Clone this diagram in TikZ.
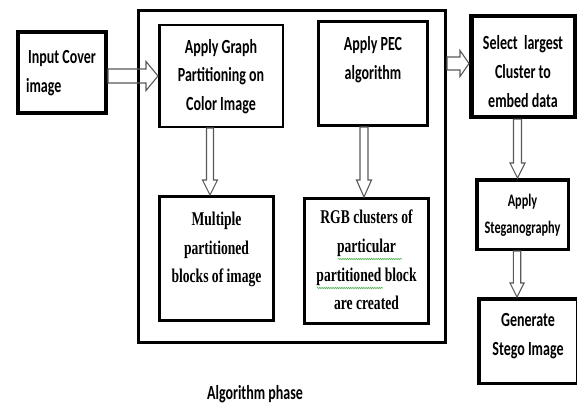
\documentclass[tikz,border=0pt]{standalone}
\usepackage{fontspec}
\setmainfont{Carlito}
\newfontfamily\serifb{Liberation Serif}
\usepackage{graphicx}
\usetikzlibrary{calc,decorations.pathmorphing}

\newcommand{\tallc}[3]{\scalebox{1}[1.43]{\fontsize{#1}{#2}\selectfont\bfseries\begin{tabular}{@{}c@{}}#3\end{tabular}}}
\newcommand{\talls}[1]{\scalebox{1}[1.43]{\serifb\fontsize{13.6}{20}\selectfont\bfseries\begin{tabular}{@{}c@{}}#1\end{tabular}}}

\tikzset{
  box/.style={draw=black, line width=#1, inner sep=0pt, fill=none},
  box/.default=3pt,
  hol/.style n args={3}{draw=black!65, line width=1.1pt, line join=miter,
    to path={($(\tikztostart)!#1!90:(\tikztotarget)$)
      -- ($(\tikztotarget)!#3!(\tikztostart)!#1!-90:(\tikztostart)$)
      -- ($(\tikztotarget)!#3!(\tikztostart)!#2!-90:(\tikztostart)$)
      -- (\tikztotarget)
      -- ($(\tikztotarget)!#3!(\tikztostart)!#2!90:(\tikztostart)$)
      -- ($(\tikztotarget)!#3!(\tikztostart)!#1!90:(\tikztostart)$)
      -- ($(\tikztostart)!#1!-90:(\tikztotarget)$) -- cycle}},
  squig/.style={draw=green!55!black!70, line width=0.6pt,
    decorate, decoration={snake, amplitude=0.7pt, segment length=2.2pt}}
}

\begin{document}
\begin{tikzpicture}[x=1pt,y=-1pt]
\useasboundingbox (0,0) rectangle (577,404);

% boxes
\node[box=4pt, minimum width=88pt, minimum height=81pt] (inp) at (62,72.5)
  {\tallc{14}{20}{Input Cover\\image\hphantom{ Cover}}};
\node[box=3pt, minimum width=307pt, minimum height=332pt] (big) at (292,176.5) {};
\node[box=2.5pt, minimum width=123.5pt, minimum height=101.5pt] (gr) at (221,76)
  {\tallc{14}{20}{Apply Graph\\Partitioning on\\Color Image}};
\node[box=3pt, minimum width=109pt, minimum height=104pt] (pe) at (373,73.5)
  {\tallc{14}{20}{Apply PEC\\algorithm\\~}};
\node[box=3pt, minimum width=114pt, minimum height=124pt] (mb) at (216.5,258.5)
  {\talls{Multiple\\partitioned\\blocks of image\\[-6pt]~}};
\node[box=3pt, minimum width=124pt, minimum height=125pt] (rg) at (366.5,261)
  {\talls{RGB clusters of\\particular\\partitioned block\\are created}};
\node[box=4.5pt, minimum width=103.5pt, minimum height=98.5pt] (se) at (523,66.5)
  {\tallc{14}{20.6}{~\\[-12pt]Select\ \ largest\\Cluster to\\embed data}};
\node[box=3.5pt, minimum width=91.5pt, minimum height=69.5pt] (st) at (522.5,214.5)
  {\tallc{12.3}{19}{Apply\\Steganography}};
\node[box=3.5pt, minimum width=98.5pt, minimum height=84.5pt] (ge) at (528,341)
  {\tallc{14}{20}{Generate\\Stego Image\\[-12pt]~}};

\node (lab) at (255,394) {\scalebox{1}[1.43]{\fontsize{14}{20}\selectfont\bfseries Algorithm phase}};

% arrow end points
\coordinate (a1s) at (inp.east |- gr.west);
\coordinate (a2s) at ([xshift=-11pt]gr.south);
\coordinate (a2t) at (a2s |- mb.north);
\coordinate (a3t) at ([xshift=-2.5pt]rg.north);
\coordinate (a3s) at (a3t |- pe.south);
\coordinate (a4t) at ([yshift=3pt]se.west);
\coordinate (a4s) at (a4t -| big.east);
\coordinate (a5s) at ([xshift=-5.5pt]se.south);
\coordinate (a5t) at (a5s |- st.north);
\coordinate (a6s) at ([xshift=-5.5pt]st.south);
\coordinate (a6t) at (a6s |- ge.north);

% hollow arrows
\draw[hol={7pt}{14.5pt}{12pt}] (a1s) to (gr.west);
\draw[hol={3.5pt}{7.5pt}{15pt}] (a2s) to (a2t);
\draw[hol={4pt}{7.5pt}{17pt}] (a3s) to (a3t);
\draw[hol={6.5pt}{13pt}{9pt}] (a4s) to (a4t);
\draw[hol={4pt}{7.5pt}{15pt}] (a5s) to (a5t);
\draw[hol={3.7pt}{7pt}{14pt}] (a6s) to (a6t);

% spell-check underlines
\draw[squig] ($(rg.center)+(-28.5,-2)$) -- ($(rg.center)+(35.5,-2)$);
\draw[squig] ($(rg.center)+(-49.5,27)$) -- ($(rg.center)+(16.5,27)$);
\end{tikzpicture}
\end{document}
